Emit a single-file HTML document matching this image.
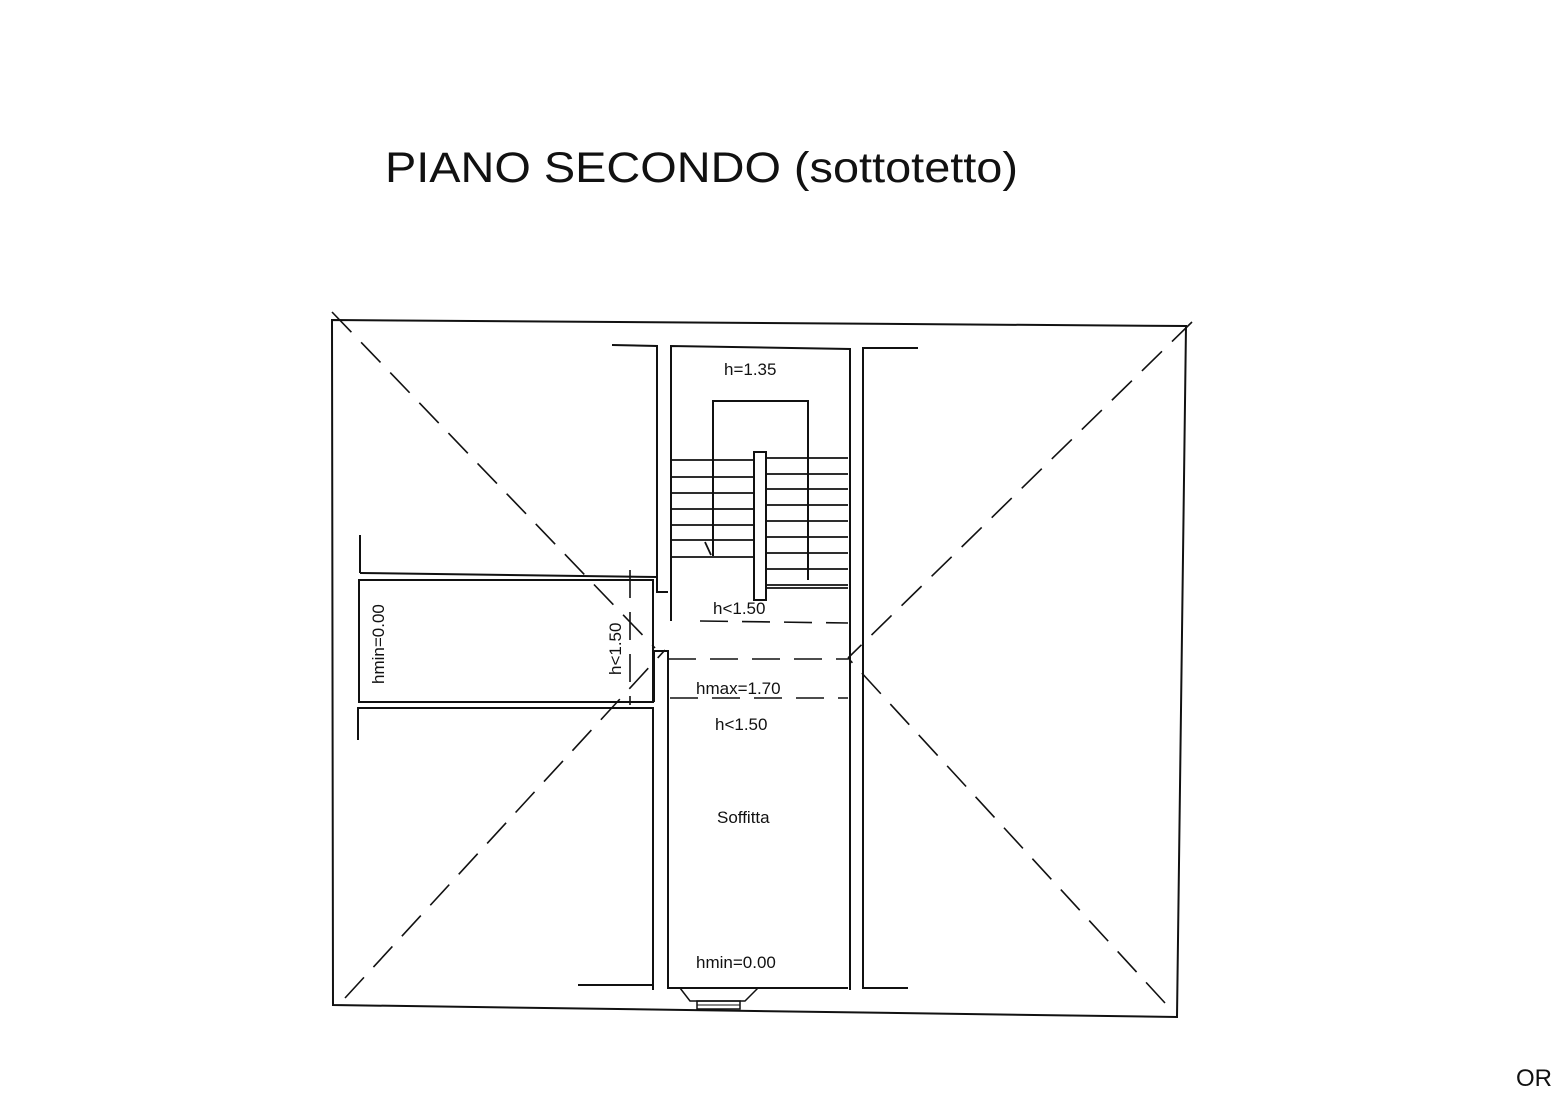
<!DOCTYPE html>
<html><head><style>
html,body{margin:0;padding:0;background:#fff;width:1563px;height:1093px;overflow:hidden}
svg text{font-family:"Liberation Sans",sans-serif;fill:#111}
</style></head><body>
<svg width="1563" height="1093" viewBox="0 0 1563 1093" xmlns="http://www.w3.org/2000/svg">
<text x="385" y="182" font-size="43" textLength="633" lengthAdjust="spacingAndGlyphs">PIANO SECONDO (sottotetto)</text>
<text x="1516" y="1086" font-size="24">OR</text>
<g stroke="#111" stroke-width="2" fill="none">
<polygon points="332,320 1186,326 1177,1017 333,1005"/>
<g stroke-dasharray="28,14" stroke-width="1.6">
<line x1="332" y1="312" x2="655" y2="648"/>
<line x1="1192" y1="322" x2="848" y2="658"/>
<line x1="345" y1="998" x2="665" y2="650"/>
<line x1="1165" y1="1003" x2="848" y2="658"/>
<line x1="700" y1="621" x2="848" y2="623"/>
<line x1="668" y1="659" x2="848" y2="659"/>
<line x1="670" y1="698" x2="848" y2="698"/>
<line x1="630" y1="570" x2="630" y2="705"/>
</g>
<polyline points="612,345 657,346 657,577 360,573"/>
<line x1="360" y1="535" x2="360" y2="573"/>
<polyline points="657,577 657,592 668,592"/>
<polyline points="671,621 671,346 850,349 850,990"/>
<polyline points="918,348 863,348 863,988 908,988"/>
<polyline points="713,556 713,401 808,401 808,580"/>
<g stroke-width="1.8">
<line x1="671" y1="460" x2="753" y2="460"/><line x1="671" y1="477" x2="753" y2="477"/>
<line x1="671" y1="493" x2="753" y2="493"/><line x1="671" y1="509" x2="753" y2="509"/>
<line x1="671" y1="525" x2="753" y2="525"/><line x1="671" y1="540" x2="753" y2="540"/>
<line x1="671" y1="557" x2="753" y2="557"/>
<line x1="766" y1="458" x2="848" y2="458"/><line x1="766" y1="474" x2="848" y2="474"/>
<line x1="766" y1="489" x2="848" y2="489"/><line x1="766" y1="505" x2="848" y2="505"/>
<line x1="766" y1="521" x2="848" y2="521"/><line x1="766" y1="537" x2="848" y2="537"/>
<line x1="766" y1="553" x2="848" y2="553"/><line x1="766" y1="569" x2="848" y2="569"/>
<line x1="766" y1="585" x2="848" y2="585"/><line x1="766" y1="588" x2="848" y2="588"/>
<line x1="705" y1="542" x2="711" y2="555"/>
</g>
<rect x="754" y="452" width="12" height="148" fill="#fff"/>
<polyline points="654,702 654,651 668,651 668,988 848,988"/>
<rect x="359" y="580" width="294" height="122"/>
<polyline points="358,740 358,708 653,708 653,990"/>
<line x1="578" y1="985" x2="653" y2="985"/>
<polyline points="680,988 690,1001 745,1001 758,988" stroke-width="1.5"/>
<rect x="697" y="1001" width="43" height="8" stroke-width="1.5"/>
<line x1="697" y1="1005" x2="740" y2="1005" stroke-width="1"/>
</g>
<g font-size="17">
<text x="724" y="375">h=1.35</text>
<text x="713" y="614">h&lt;1.50</text>
<text x="696" y="694">hmax=1.70</text>
<text x="715" y="730">h&lt;1.50</text>
<text x="717" y="823">Soffitta</text>
<text x="696" y="968">hmin=0.00</text>
<text transform="translate(384,684) rotate(-90)">hmin=0.00</text>
<text transform="translate(621,675) rotate(-90)">h&lt;1.50</text>
</g>
</svg>
</body></html>
